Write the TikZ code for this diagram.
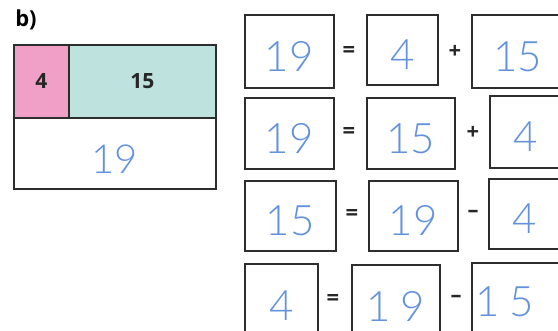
\documentclass[tikz,border=0pt]{standalone}
\usepackage{fontspec}
\setmainfont{Open Sans}
\newfontfamily\handfont{Lato Light}
\usetikzlibrary{positioning}
\definecolor{barPink}{RGB}{240,160,198}
\definecolor{barTeal}{RGB}{190,227,223}
\definecolor{boxLine}{RGB}{45,45,45}
\definecolor{handBlue}{RGB}{98,146,222}

\tikzset{
    cell/.style={draw=boxLine, line width=1.6pt, inner sep=0pt, anchor=north west},
    numbox/.style={cell, text=handBlue, font=\handfont\fontsize{42}{42}\selectfont,
        text height=40pt, text depth=0pt},
    printed/.style={font=\bfseries\fontsize{21}{21}\selectfont, text=black!85},
    opsign/.style={font=\bfseries\fontsize{22}{22}\selectfont, text=black!85},
}

\begin{document}
\begin{tikzpicture}[x=1pt,y=-1pt]
    \useasboundingbox (0,0) rectangle (558,331);
    \clip (0,0) rectangle (558,331);

    % Bar model
    \node[font=\bfseries\fontsize{22}{22}\selectfont] (label) at (26,20) {b)};
    \node[cell, fill=barPink, minimum width=55pt, minimum height=73pt, printed] (partA) at (13,44) {4};
    \node[cell, fill=barTeal, minimum width=147pt, minimum height=73pt, printed] (partB) at (68,44) {15};
    \node[numbox, minimum width=202pt, minimum height=71pt, font=\handfont\fontsize{40}{40}\selectfont] (whole) at (13,117) {19};

    % Row 1
    \node[numbox, minimum width=89pt, minimum height=73pt] (r1a) at (244,14) {19};
    \node[opsign] (r1eq) at (349,52) {=};
    \node[numbox, minimum width=71pt, minimum height=70pt] (r1b) at (366,14) {4};
    \node[opsign] (r1op) at (455,52) {+};
    \node[numbox, minimum width=92pt, minimum height=73pt] (r1c) at (471,14) {15};

    % Row 2
    \node[numbox, minimum width=89pt, minimum height=71pt] (r2a) at (244,97) {19};
    \node[opsign] (r2eq) at (349,133) {=};
    \node[numbox, minimum width=88pt, minimum height=71pt] (r2b) at (366,97) {15};
    \node[opsign] (r2op) at (473,133) {+};
    \node[numbox, minimum width=72pt, minimum height=72pt] (r2c) at (489,95) {4};

    % Row 3
    \node[numbox, minimum width=91pt, minimum height=70pt] (r3a) at (244,180) {15};
    \node[opsign] (r3eq) at (352,215) {=};
    \node[numbox, minimum width=89pt, minimum height=70pt] (r3b) at (368,180) {19};
    \node[opsign] (r3op) at (473,214) {--};
    \node[numbox, minimum width=72pt, minimum height=70pt] (r3c) at (488,178) {4};

    % Row 4
    \node[numbox, minimum width=73pt, minimum height=74pt] (r4a) at (244,263) {4};
    \node[opsign] (r4eq) at (333,300) {=};
    \node[numbox, minimum width=88pt, minimum height=74pt] (r4b) at (351,264) {1\hspace{10pt}9};
    \node[opsign] (r4op) at (456,299) {--};
    \node[cell, minimum width=100pt, minimum height=80pt] (r4c) at (471,262) {};
    \node[text=handBlue, font=\handfont\fontsize{42}{42}\selectfont] (r4ctext) at (505,302) {1\hspace{10pt}5};
\end{tikzpicture}
\end{document}
